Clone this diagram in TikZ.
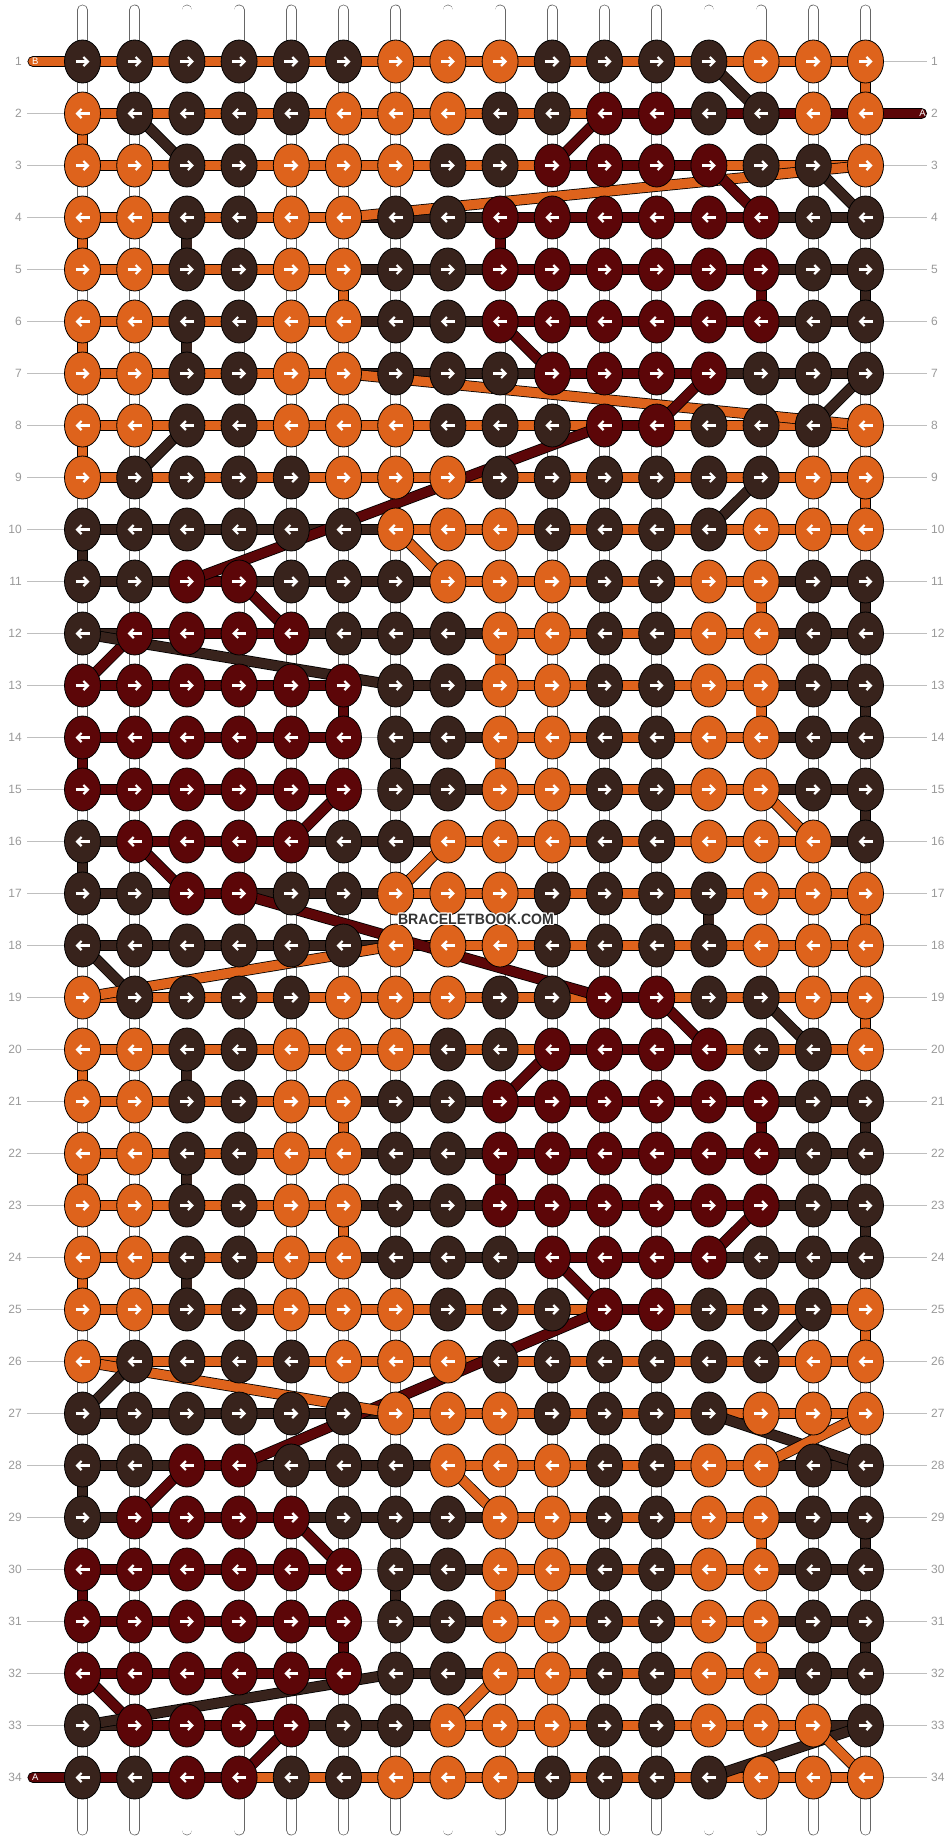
\documentclass[tikz,border=0pt]{standalone}
\usepackage{fontspec}
\setmainfont{Liberation Sans}
\usetikzlibrary{positioning, arrows.meta, shapes.geometric, backgrounds}

\definecolor{kO}{HTML}{DE631C}
\definecolor{kB}{HTML}{38231C}
\definecolor{kR}{HTML}{5C0608}

\begin{document}
\begin{tikzpicture}[
		x=1pt, y=-1pt,
		>={Straight Barb[length=4.5pt, width=9pt]},
		knot/.style={ellipse, draw=black, line width=0.8pt, minimum width=36pt, minimum height=43pt, inner sep=0pt},
		arrowmark/.style={->, white, line width=2.2pt},
		thread/.style={draw=black, line width=0.8pt, double=#1, double distance=9.4pt},
		basestring/.style={draw=black!60, line width=0.7pt, double=white, double distance=9.4pt, line cap=round},
		rowline/.style={draw=black!25, line width=1pt},
		rownum/.style={text=black!40, font=\fontsize{12}{12}\selectfont, inner sep=0pt},
		endtag/.style={text=white, font=\fontsize{9.5}{9.5}\selectfont, inner sep=0pt},
		watermark/.style={font=\fontsize{15}{15}\selectfont\bfseries, inner sep=0pt}
		]
		
		\useasboundingbox (0,0) rectangle (948,1840);
		
		% ==========================================
		% KNOTS (rows 18-34 repeat rows 1-17)
		% ==========================================
		\foreach \p/\cols in {
			1/{B,B,B,B,B,B,O,O,O,B,B,B,B,O,O,O},
			2/{O,B,B,B,B,O,O,O,B,B,R,R,B,B,O,O},
			3/{O,O,B,B,O,O,O,B,B,R,R,R,R,B,B,O},
			4/{O,O,B,B,O,O,B,B,R,R,R,R,R,R,B,B},
			5/{O,O,B,B,O,O,B,B,R,R,R,R,R,R,B,B},
			6/{O,O,B,B,O,O,B,B,R,R,R,R,R,R,B,B},
			7/{O,O,B,B,O,O,B,B,B,R,R,R,R,B,B,B},
			8/{O,O,B,B,O,O,O,B,B,B,R,R,B,B,B,O},
			9/{O,B,B,B,B,O,O,O,B,B,B,B,B,B,O,O},
			10/{B,B,B,B,B,B,O,O,O,B,B,B,B,O,O,O},
			11/{B,B,R,R,B,B,B,O,O,O,B,B,O,O,B,B},
			12/{B,R,R,R,R,B,B,B,O,O,B,B,O,O,B,B},
			13/{R,R,R,R,R,R,B,B,O,O,B,B,O,O,B,B},
			14/{R,R,R,R,R,R,B,B,O,O,B,B,O,O,B,B},
			15/{R,R,R,R,R,R,B,B,O,O,B,B,O,O,B,B},
			16/{B,R,R,R,R,B,B,O,O,O,B,B,O,O,O,B},
			17/{B,B,R,R,B,B,O,O,O,B,B,B,B,O,O,O}} {
			\foreach \rep in {0,17} {
				\pgfmathtruncatemacro\r{\p+\rep}
				\foreach \k [count=\c] in \cols {
					\node[knot, fill=k\k] (Knot-\r-\c) at ({52.2*\c+30.3}, {52*\r+9.5}) {};
					\ifodd\r\relax
					\draw[arrowmark] ([xshift=-7pt]Knot-\r-\c.center) -- ([xshift=7pt]Knot-\r-\c.center);
					\else
					\draw[arrowmark] ([xshift=7pt]Knot-\r-\c.center) -- ([xshift=-7pt]Knot-\r-\c.center);
					\fi
				}
			}
		}
		
		% Row numbers
		\foreach \r in {1,...,34} {
			\node[rownum, anchor=east] (NumL-\r) at (22, {52*\r+9.5}) {\r};
			\node[rownum, anchor=west] (NumR-\r) at (931, {52*\r+9.5}) {\r};
		}
		
		% ==========================================
		% STRINGS AND THREADS
		% ==========================================
		\begin{scope}[on background layer]
			\foreach \c in {1,...,16} {
				\coordinate (Top-\c) at ({52.2*\c+30.3}, 10);
				\coordinate (Bottom-\c) at ({52.2*\c+30.3}, 1830);
				\draw[basestring] (Top-\c) -- (Bottom-\c);
			}
			\foreach \r in {1,...,34}
			\draw[rowline] ([xshift=5pt]NumL-\r.east) -- ([xshift=-4pt]NumR-\r.west);
			
			% Threads along the rows
			\foreach \r/\segs in {
				1/{O,O,O,O,O,O,O,O,O,O,O,O,O,O,O},
				2/{O,O,O,O,O,O,O,O,O,O,R,R,R,R,R},
				3/{O,O,O,O,O,O,O,O,O,R,R,R,O,O,O},
				4/{O,O,O,O,O,B,B,B,R,R,R,R,R,B,B},
				5/{O,O,O,O,O,B,B,B,R,R,R,R,R,B,B},
				6/{O,O,O,O,O,B,B,B,R,R,R,R,R,B,B},
				7/{O,O,O,O,O,B,B,B,B,R,R,R,B,B,B},
				8/{O,O,O,O,O,O,O,O,O,O,R,O,O,O,O},
				9/{O,O,O,O,O,O,O,O,O,O,O,O,O,O,O},
				10/{B,B,B,B,B,B,O,O,O,O,O,O,O,O,O},
				11/{B,B,R,B,B,B,B,O,O,O,O,O,O,B,B},
				12/{B,R,R,R,B,B,B,B,O,O,O,O,O,B,B},
				13/{R,R,R,R,R,N,B,B,O,O,O,O,O,B,B},
				14/{R,R,R,R,R,N,B,B,O,O,O,O,O,B,B},
				15/{R,R,R,R,R,N,B,B,O,O,O,O,O,B,B},
				16/{B,R,R,R,B,B,B,O,O,O,O,O,O,O,B},
				17/{B,B,R,B,B,B,O,O,O,O,O,O,O,O,O},
				18/{B,B,B,B,B,B,O,O,O,O,O,O,O,O,O},
				19/{O,O,O,O,O,O,O,O,O,O,R,O,O,O,O},
				20/{O,O,O,O,O,O,O,O,O,R,R,R,O,O,O},
				21/{O,O,O,O,O,B,B,B,R,R,R,R,R,B,B},
				22/{O,O,O,O,O,B,B,B,R,R,R,R,R,B,B},
				23/{O,O,O,O,O,B,B,B,R,R,R,R,R,B,B},
				24/{O,O,O,O,O,B,B,B,B,R,R,R,B,B,B},
				25/{O,O,O,O,O,O,O,O,O,O,R,O,O,O,O},
				26/{O,O,O,O,O,O,O,O,O,O,O,O,O,O,O},
				27/{B,B,B,B,B,B,O,O,O,O,O,O,O,O,O},
				28/{B,B,R,B,B,B,B,O,O,O,O,O,O,B,B},
				29/{B,R,R,R,B,B,B,B,O,O,O,O,O,B,B},
				30/{R,R,R,R,R,N,B,B,O,O,O,O,O,B,B},
				31/{R,R,R,R,R,N,B,B,O,O,O,O,O,B,B},
				32/{R,R,R,R,R,N,B,B,O,O,O,O,O,B,B},
				33/{B,R,R,R,B,B,B,O,O,O,O,O,O,O,B},
				34/{R,R,R,O,O,O,O,O,O,O,O,O,O,O,O}} {
				\foreach \s [count=\c] in \segs {
					\if N\s \else
					\pgfmathtruncatemacro\n{\c+1}
					\draw[thread=k\s] (Knot-\r-\c.center) -- (Knot-\r-\n.center);
					\fi
				}
			}
			
			% Threads dropping to the next row
			\foreach \r/\c/\s in {1/16/O, 2/1/O, 4/1/O, 4/3/B, 4/9/R, 5/6/O, 5/14/R, 5/16/B,
				6/1/O, 6/3/B, 8/1/O, 9/16/O, 10/1/B, 11/14/O, 11/16/B, 12/9/O,
				13/6/R, 13/14/O, 13/16/B, 14/1/R, 14/7/B, 14/9/O, 15/16/B, 16/1/B,
				17/13/B, 17/16/O, 19/16/O, 20/1/O, 20/3/B, 21/6/O, 21/14/R, 21/16/B,
				22/1/O, 22/3/B, 22/9/R, 23/6/O, 23/16/B, 24/1/O, 24/3/B, 25/16/O,
				28/1/B, 29/14/O, 29/16/B, 30/1/R, 30/7/B, 30/9/O, 31/6/R, 31/14/O, 31/16/B} {
				\pgfmathtruncatemacro\n{\r+1}
				\draw[thread=k\s] (Knot-\r-\c.center) -- (Knot-\n-\c.center);
			}
			
			% Threads crossing between rows
			\foreach \ra/\ca/\rb/\cb/\s in {1/13/2/14/B, 2/2/3/3/B, 2/11/3/10/R, 3/16/4/6/O,
				3/13/4/14/R, 3/15/4/16/B, 6/9/7/10/R, 7/6/8/16/O, 7/13/8/12/R, 7/16/8/15/B,
				8/11/11/3/R, 8/3/9/2/B, 9/14/10/13/B, 10/7/11/8/O, 11/4/12/5/R, 12/2/13/1/R,
				12/1/13/7/B, 15/6/16/5/R, 15/14/16/15/O, 16/2/17/3/R, 16/8/17/7/O,
				17/4/19/11/R, 18/1/19/2/B, 18/7/19/1/O, 19/12/20/13/R, 19/14/20/15/B,
				20/10/21/9/R, 23/14/24/13/R, 24/10/25/11/R, 25/11/28/4/R, 25/15/26/14/B,
				26/1/27/7/O, 26/2/27/1/B, 27/13/28/16/B, 27/16/28/14/O, 28/3/29/2/R,
				28/8/29/9/O, 29/5/30/6/R, 32/1/33/2/R, 32/7/33/1/B, 32/9/33/8/O,
				33/5/34/4/R, 33/16/34/13/B, 33/15/34/16/O}
			\draw[thread=k\s] (Knot-\ra-\ca.center) -- (Knot-\rb-\cb.center);
			
			% Loose ends
			\coordinate (EndB) at (33, 61.5);
			\coordinate (EndA) at (921.5, 113.5);
			\coordinate (StartA) at (33, 1777.5);
			\draw[thread=kO, line cap=round] (EndB) -- (Knot-1-1.center);
			\draw[thread=kR, line cap=round] (Knot-2-16.center) -- (EndA);
			\draw[thread=kR, line cap=round] (StartA) -- (Knot-34-1.center);
		\end{scope}
		
		\node[endtag, anchor=west] (TagB) at (32, 61.5) {B};
		\node[endtag, anchor=east] (TagA) at (926, 113.5) {A};
		\node[endtag, anchor=west] (TagA2) at (32, 1777.5) {A};
		
		% ==========================================
		% WATERMARK
		% ==========================================
		\foreach \dx/\dy [count=\i] in {-1/-1, 0/-1.3, 1/-1, -1.3/0, 1.3/0, -1/1, 0/1.3, 1/1}
		\node[watermark, text=white] (Halo-\i) at ({476+\dx}, {919.5+\dy}) {\scalebox{0.94}[1]{BRACELETBOOK.COM}};
		\node[watermark, text=black!80] (Mark) at (476, 919.5) {\scalebox{0.94}[1]{BRACELETBOOK.COM}};
		
	\end{tikzpicture}
\end{document}
